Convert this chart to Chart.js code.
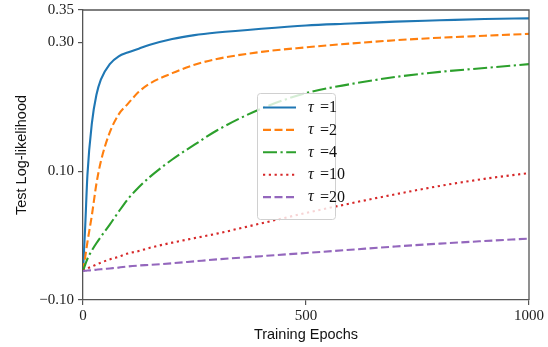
<!DOCTYPE html>
<html>
<head>
<meta charset="utf-8">
<script src="https://cdn.jsdelivr.net/npm/chart.js@4.4.1/dist/chart.umd.min.js"></script>
<style>
  html, body { margin: 0; padding: 0; background: #fff; }
  #wrap { width: 548px; height: 347px; }
</style>
</head>
<body>
<div id="wrap"><canvas id="chart" width="548" height="347"></canvas></div>
<script>
// Datos
const epochs = [0, 5, 10, 20, 30, 40, 60, 80, 100, 125, 150, 200, 250, 300, 400, 500, 600, 700, 800, 900, 1000];
const taus = [1, 2, 4, 10, 20];
const tau1  = [-0.055, 0.015, 0.095, 0.175, 0.218, 0.242, 0.266, 0.278, 0.284, 0.290, 0.296, 0.305, 0.311, 0.315, 0.321, 0.326, 0.329, 0.332, 0.334, 0.336, 0.337];
const tau2  = [-0.055, -0.033, -0.010, 0.032, 0.080, 0.115, 0.160, 0.188, 0.204, 0.223, 0.236, 0.252, 0.265, 0.274, 0.285, 0.292, 0.298, 0.303, 0.307, 0.310, 0.313];
const tau4  = [-0.055, -0.045, -0.036, -0.023, -0.012, -0.002, 0.017, 0.037, 0.056, 0.075, 0.091, 0.118, 0.141, 0.163, 0.197, 0.221, 0.235, 0.246, 0.254, 0.260, 0.266];
const tau10 = [-0.055, -0.053, -0.051, -0.048, -0.045, -0.042, -0.037, -0.033, -0.028, -0.024, -0.019, -0.011, -0.004, 0.003, 0.019, 0.035, 0.050, 0.064, 0.077, 0.088, 0.097];
const tau20 = [-0.055, -0.0547, -0.0543, -0.0537, -0.053, -0.0523, -0.051, -0.0497, -0.048, -0.0465, -0.0455, -0.043, -0.040, -0.037, -0.032, -0.027, -0.022, -0.017, -0.0125, -0.0085, -0.0047];
const xTicks = [0, 500, 1000];
const yTicks = [-0.10, 0.10, 0.30, 0.35];

const SERIF = '"Liberation Serif", "DejaVu Serif", serif';
const SANS = '"Liberation Sans", "DejaVu Sans", sans-serif';
const AXIS = '#555';

// Estilos (tipo matplotlib)
const styles = [
  { color: '#1f77b4', dash: [] },
  { color: '#ff7f0e', dash: [8, 3.5] },
  { color: '#2ca02c', dash: [14, 3.5, 2.2, 3.5] },
  { color: '#d62728', dash: [2.2, 3.6] },
  { color: '#9467bd', dash: [8, 3.5] }
];
const series = [tau1, tau2, tau4, tau10, tau20];

const datasets = series.map((vals, i) => ({
  label: String(taus[i]),
  data: epochs.map((e, j) => ({ x: e, y: vals[j] })),
  borderColor: styles[i].color,
  borderDash: styles[i].dash,
  borderWidth: 2.1,
  pointRadius: 0,
  cubicInterpolationMode: 'monotone',
  fill: false,
  order: series.length - i
}));

// Marco superior/derecho + leyenda dentro del gráfico
const framePlugin = {
  id: 'frame',
  afterDraw(chart) {
    const { ctx, chartArea: a } = chart;
    ctx.save();
    ctx.strokeStyle = AXIS;
    ctx.lineWidth = 1.3;
    ctx.beginPath();
    ctx.moveTo(a.left, a.top);
    ctx.lineTo(a.right, a.top);
    ctx.lineTo(a.right, a.bottom);
    ctx.stroke();

    // leyenda
    const bx = 257.5, by = 93.5, bw = 78, bh = 126;
    ctx.beginPath();
    ctx.roundRect(bx, by, bw, bh, 3);
    ctx.fillStyle = 'rgba(255,255,255,0.8)';
    ctx.fill();
    ctx.strokeStyle = '#d0d0d0';
    ctx.lineWidth = 1;
    ctx.stroke();

    chart.data.datasets.forEach((ds, i) => {
      const y = 107.5 + i * 22.4;
      ctx.beginPath();
      ctx.setLineDash(ds.borderDash);
      ctx.strokeStyle = ds.borderColor;
      ctx.lineWidth = ds.borderWidth;
      ctx.moveTo(263, y);
      ctx.lineTo(296, y);
      ctx.stroke();
      ctx.setLineDash([]);
      ctx.fillStyle = '#111';
      ctx.textBaseline = 'middle';
      ctx.textAlign = 'left';
      ctx.font = 'italic 16px ' + SERIF;
      ctx.fillText('τ', 308, y);
      ctx.font = '16px ' + SERIF;
      ctx.fillText('=' + ds.label, 320, y + 0.5);
    });
    ctx.restore();
  }
};

const fmtY = v => (v < 0 ? '\u2212' : '') + Math.abs(v).toFixed(2);

new Chart(document.getElementById('chart'), {
  type: 'line',
  data: { datasets },
  options: {
    responsive: false,
    animation: false,
    layout: { padding: { top: 10, right: 19, left: 0, bottom: 0 } },
    plugins: { legend: { display: false }, tooltip: { enabled: false } },
    scales: {
      x: {
        type: 'linear',
        min: 0, max: 1000,
        afterBuildTicks: s => { s.ticks = xTicks.map(v => ({ value: v })); },
        afterFit: s => { s.height = 47; s.paddingLeft = 0; s.paddingRight = 0; },
        ticks: {
          color: '#222', font: { family: SERIF, size: 15 }, padding: 2,
          maxRotation: 0, callback: v => String(v)
        },
        grid: { drawOnChartArea: false, drawTicks: true, tickLength: 5, color: AXIS, lineWidth: 1.2 },
        border: { display: true, color: AXIS, width: 1.3 },
        title: { display: true, text: 'Training Epochs', color: '#111', font: { family: SANS, size: 14.5 }, padding: { top: 0, bottom: 3 } }
      },
      y: {
        min: -0.10, max: 0.35,
        afterBuildTicks: s => { s.ticks = yTicks.map(v => ({ value: v })); },
        afterFit: s => { s.width = 83; s.paddingTop = 0; s.paddingBottom = 0; },
        ticks: { color: '#222', font: { family: SERIF, size: 15 }, padding: 4, callback: v => fmtY(v) },
        grid: { drawOnChartArea: false, drawTicks: true, tickLength: 5, color: AXIS, lineWidth: 1.2 },
        border: { display: true, color: AXIS, width: 1.3 },
        title: { display: true, text: 'Test Log-likelihood', color: '#111', font: { family: SANS, size: 14.5 }, padding: { top: 13, bottom: 0 } }
      }
    }
  },
  plugins: [framePlugin]
});
</script>
</body>
</html>
